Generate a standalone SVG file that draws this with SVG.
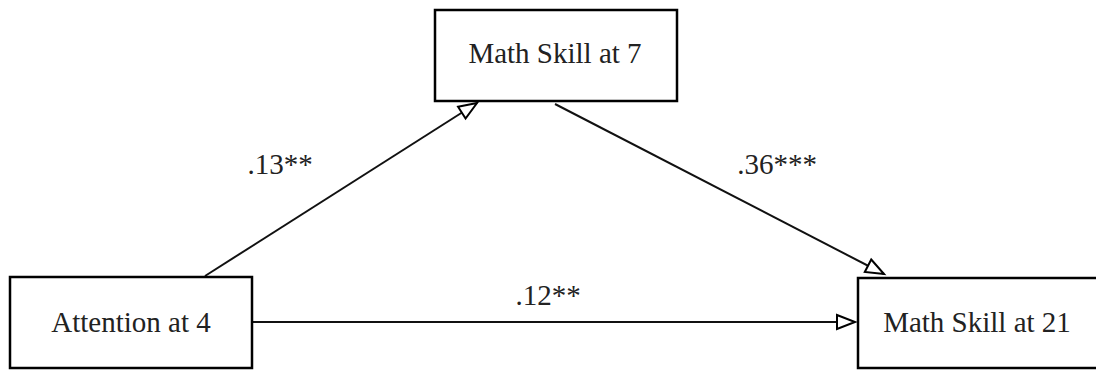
<svg xmlns="http://www.w3.org/2000/svg" width="1096" height="370" viewBox="0 0 1096 370">
<defs>
<style>
.box{fill:#fff;stroke:#000;stroke-width:2.5}
.lbl{font-family:"Liberation Serif","Times New Roman",serif;font-size:29px;fill:#222}
.edge{stroke:#111;stroke-width:2;fill:none}
</style>
<marker id="arr" markerUnits="userSpaceOnUse" markerWidth="22" markerHeight="18" refX="19" refY="8" orient="auto" overflow="visible">
<path d="M1,1 L19,8 L1,15 Z" fill="#fff" stroke="#000" stroke-width="2" stroke-linejoin="miter"/>
</marker>
</defs>
<rect width="1096" height="370" fill="#fff"/>
<g id="connectors">
<line class="edge" x1="205" y1="276" x2="477" y2="103" marker-end="url(#arr)"/>
<line class="edge" x1="555" y1="104" x2="884" y2="274" marker-end="url(#arr)"/>
<line class="edge" x1="252" y1="322" x2="855" y2="322" marker-end="url(#arr)"/>
<text class="lbl" x="280" y="174" text-anchor="middle">.13**</text>
<text class="lbl" x="777" y="174" text-anchor="middle">.36***</text>
<text class="lbl" x="548" y="305" text-anchor="middle">.12**</text>
</g>
<g id="math7">
<rect class="box" x="435" y="10" width="242" height="91"/>
<text class="lbl" x="555" y="63" text-anchor="middle">Math Skill at 7</text>
</g>
<g id="attention4">
<rect class="box" x="10" y="277" width="242" height="91"/>
<text class="lbl" x="131" y="332" text-anchor="middle">Attention at 4</text>
</g>
<g id="math21">
<rect class="box" x="858" y="278" width="242" height="90"/>
<text class="lbl" x="977" y="332" text-anchor="middle">Math Skill at 21</text>
</g>
</svg>
